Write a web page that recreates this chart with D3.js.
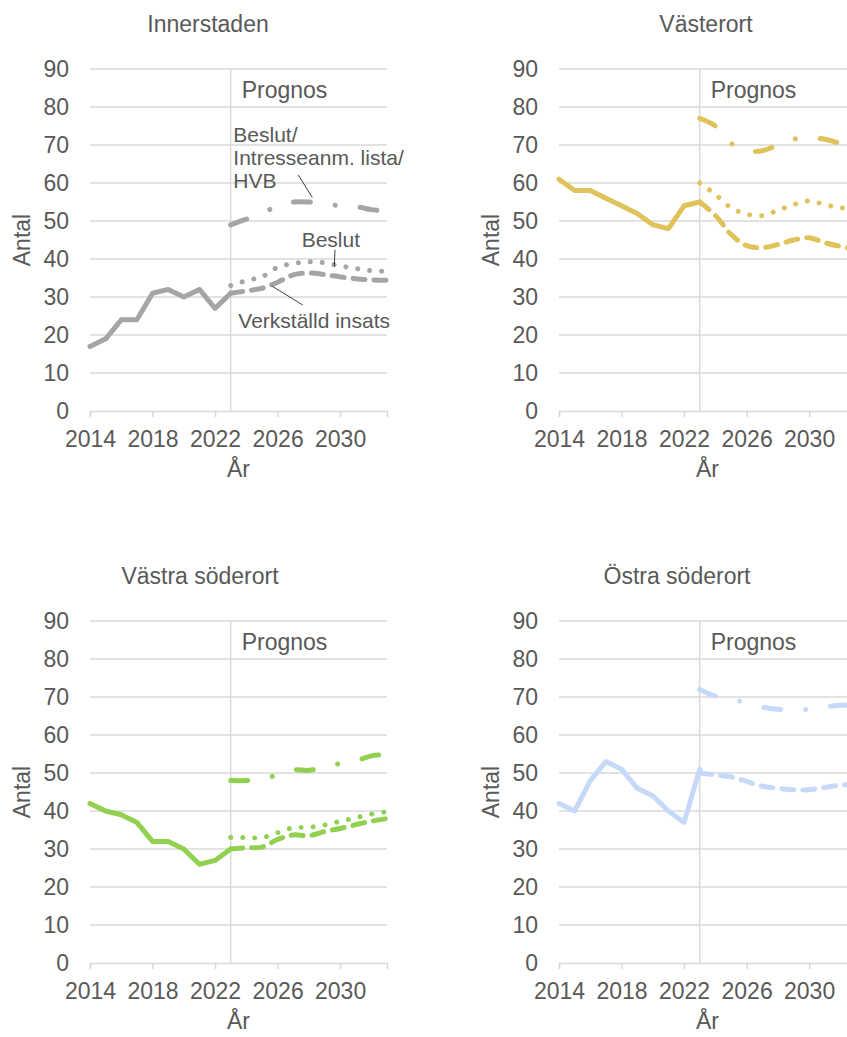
<!DOCTYPE html>
<html>
<head>
<meta charset="utf-8">
<script src="https://cdn.jsdelivr.net/npm/d3@7"></script>
<style>
  body { margin: 0; background: #fff; }
  svg { display: block; font-family: "Liberation Sans", Arial, sans-serif; }
  .grid line { stroke: #d9d9d9; stroke-width: 1.5; }
  .axis text { fill: #595959; font-size: 23px; }
  .label { fill: #595959; font-size: 23px; }
  .note { fill: #595959; font-size: 21px; }
</style>
</head>
<body>
<div id="chart"></div>
<script>
// years on the category axis
var histYears = [2014, 2015, 2016, 2017, 2018, 2019, 2020, 2021, 2022, 2023];
var progYears = [2023, 2024, 2025, 2026, 2027, 2028, 2029, 2030, 2031, 2032, 2033];
var tickYears = [2014, 2018, 2022, 2026, 2030];
var yTicks = [0, 10, 20, 30, 40, 50, 60, 70, 80, 90];

// Innerstaden
var innerHist = [17, 19, 24, 24, 31, 32, 30, 32, 27, 31];
var innerVerk = [31, 31.6, 32.3, 33.9, 35.8, 36.3, 35.9, 35.3, 34.8, 34.5, 34.4];
var innerBeslut = [33, 34.3, 35.3, 37.8, 38.8, 39.3, 39, 38.2, 37.5, 36.9, 36.8];
var innerHvb = [49, 50.5, 52, 54, 55, 55, 54.5, 54, 53.8, 53, 52.5];

// Västerort
var vastHist = [61, 58, 58, 56, 54, 52, 49, 48, 54, 55];
var vastVerk = [55, 51.5, 46.5, 43.5, 43, 43.8, 45, 45.6, 44.3, 43.3, 42.5];
var vastBeslut = [60, 57, 53.5, 51.8, 51.4, 52.8, 54.3, 55.3, 54.3, 53.5, 53];
var vastHvb = [77, 75, 70.5, 68.5, 68.5, 70, 71.5, 72, 71.5, 70.5, 70];

// Västra söderort
var vsodHist = [42, 40, 39, 37, 32, 32, 30, 26, 27, 30];
var vsodVerk = [30, 30.3, 30.5, 32.5, 33.7, 33.5, 34.6, 35.4, 36.4, 37.3, 38];
var vsodBeslut = [33, 33, 33, 34.3, 35.6, 35.7, 36.3, 37.3, 38.2, 39.2, 39.8];
var vsodHvb = [48, 48, 48.5, 49.5, 50.8, 50.7, 51.5, 52.5, 53.2, 54.5, 54.8];

// Östra söderort (no Beslut series)
var osodHist = [42, 40, 48, 53, 51, 46, 44, 40, 37, 51];
var osodVerk = [50, 49.5, 49, 47.8, 46.5, 46, 45.6, 45.6, 46.2, 46.8, 47];
var osodHvb = [72, 70.3, 69.8, 68.2, 67.3, 66.8, 66.6, 66.8, 67.4, 67.8, 68];

var regions = [
  { name: "Innerstaden", color: "#a5a5a5", hist: innerHist, verk: innerVerk, beslut: innerBeslut, hvb: innerHvb,
    left: 90, top: 69, titleX: 208 },
  { name: "Västerort", color: "#dfc35a", hist: vastHist, verk: vastVerk, beslut: vastBeslut, hvb: vastHvb,
    left: 559, top: 69, titleX: 706 },
  { name: "Västra söderort", color: "#92d050", hist: vsodHist, verk: vsodVerk, beslut: vsodBeslut, hvb: vsodHvb,
    left: 90, top: 621, titleX: 200 },
  { name: "Östra söderort", color: "#c6d9f8", hist: osodHist, verk: osodVerk, beslut: null, hvb: osodHvb,
    left: 559, top: 621, titleX: 677 }
];

// labels in the first panel: text anchor and leader line, in data units
var notes = [
  { lines: ["Beslut/", "Intresseanm. lista/", "HVB"], tx: 2023.17, ty: 70.9, from: [2027.33, 62.1], to: [2028.22, 56.2] },
  { lines: ["Beslut"], tx: 2027.54, ty: 43.1, from: [2029.67, 42.4], to: [2029.63, 38.0] },
  { lines: ["Verkställd insats"], tx: 2023.49, ty: 21.8, from: [2025.63, 32.9], to: [2027.61, 27.9] }
];

var svgWidth = 847;
var svgHeight = 1037;
var width = 297;
var height = 342;

var svg = d3.select("#chart")
  .append("svg")
  .attr("width", svgWidth)
  .attr("height", svgHeight);

var x = d3.scaleLinear().domain([2014, 2033]).range([0, width]);
var y = d3.scaleLinear().domain([0, 90]).range([height, 0]);

var histLine = d3.line()
  .x((d, i) => x(histYears[i]))
  .y(d => y(d));

var progLine = d3.line()
  .x((d, i) => x(progYears[i]))
  .y(d => y(d))
  .curve(d3.curveCatmullRom.alpha(0.5));

regions.forEach(function(r, idx) {
  var g = svg.append("g")
    .attr("transform", `translate(${r.left}, ${r.top})`);

  // title
  g.append("text")
    .attr("class", "label")
    .attr("x", r.titleX - r.left)
    .attr("y", -37)
    .attr("text-anchor", "middle")
    .text(r.name);

  // gridlines
  g.append("g")
    .attr("class", "grid")
    .selectAll("line")
    .data(yTicks.slice(1))
    .enter()
    .append("line")
    .attr("x1", 0)
    .attr("x2", width)
    .attr("y1", d => y(d))
    .attr("y2", d => y(d));

  // y axis labels
  var yAxis = g.append("g")
    .attr("class", "axis")
    .call(d3.axisLeft(y).tickValues(yTicks).tickSize(0).tickPadding(21));
  yAxis.select(".domain").remove();

  // x axis
  var xAxis = g.append("g")
    .attr("class", "axis")
    .attr("transform", `translate(0, ${height})`)
    .call(d3.axisBottom(x).tickValues(tickYears).tickFormat(d3.format("d")).tickSize(6).tickPadding(14));
  xAxis.select(".domain").attr("stroke", "#d9d9d9").attr("stroke-width", 1.5);
  xAxis.selectAll(".tick line").attr("stroke", "#d9d9d9").attr("stroke-width", 1.5);

  // forecast divider
  g.append("line")
    .attr("x1", x(2023))
    .attr("x2", x(2023))
    .attr("y1", 0)
    .attr("y2", height)
    .attr("stroke", "#d9d9d9")
    .attr("stroke-width", 1.5);

  g.append("text")
    .attr("class", "label")
    .attr("x", x(2023) + 11)
    .attr("y", 29)
    .text("Prognos");

  // axis titles
  g.append("text")
    .attr("class", "label")
    .attr("x", width / 2)
    .attr("y", height + 66)
    .attr("text-anchor", "middle")
    .text("År");

  g.append("text")
    .attr("class", "label")
    .attr("transform", "rotate(-90)")
    .attr("x", -height / 2)
    .attr("y", -60)
    .attr("text-anchor", "middle")
    .text("Antal");

  var lines = g.append("g")
    .attr("fill", "none")
    .attr("stroke", r.color)
    .attr("stroke-width", 5)
    .attr("stroke-linecap", "round")
    .attr("stroke-linejoin", "round");

  lines.append("path")
    .attr("d", histLine(r.hist));

  lines.append("path")
    .attr("d", progLine(r.verk))
    .attr("stroke-dasharray", "12 9");

  if (r.beslut) {
    lines.append("path")
      .attr("d", progLine(r.beslut))
      .attr("stroke-dasharray", "0.01 12");
  }

  lines.append("path")
    .attr("d", progLine(r.hvb))
    .attr("stroke-dasharray", "17 25 0.01 25");

  if (idx === 0) {
    notes.forEach(function(n) {
      g.append("line")
        .attr("x1", x(n.from[0]))
        .attr("y1", y(n.from[1]))
        .attr("x2", x(n.to[0]))
        .attr("y2", y(n.to[1]))
        .attr("stroke", "#404040")
        .attr("stroke-width", 1);

      var t = g.append("text")
        .attr("class", "note")
        .attr("x", x(n.tx))
        .attr("y", y(n.ty));
      n.lines.forEach(function(s, k) {
        t.append("tspan")
          .attr("x", x(n.tx))
          .attr("dy", k === 0 ? 0 : 23)
          .text(s);
      });
    });
  }
});
</script>
</body>
</html>
